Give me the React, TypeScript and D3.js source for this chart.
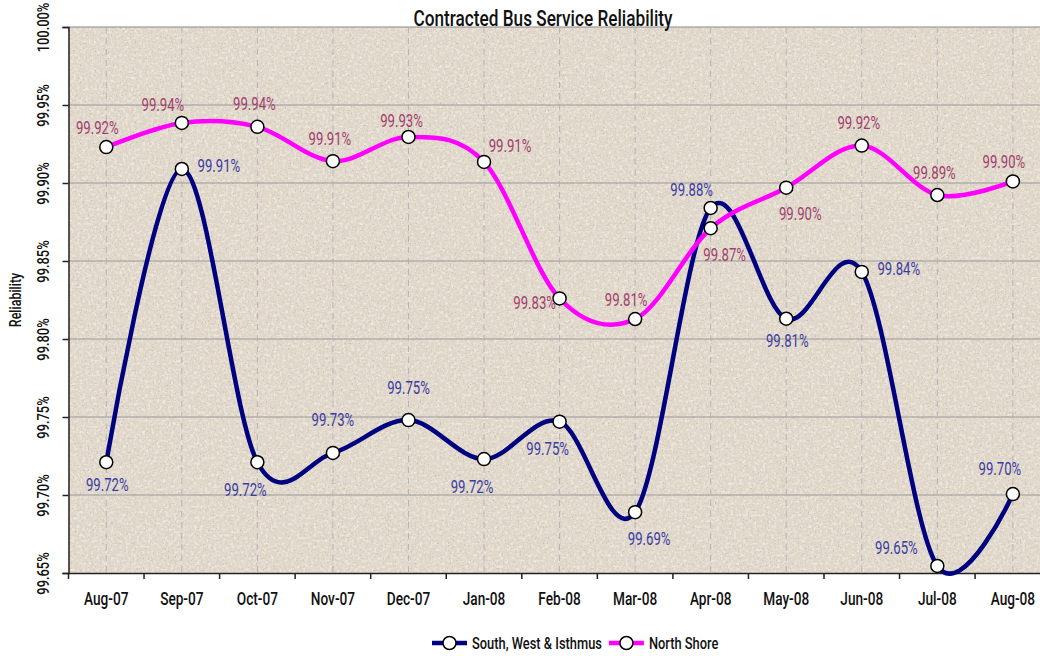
import React, { useEffect, useRef } from 'react';
import * as d3 from 'd3';

const months = ['Aug-07', 'Sep-07', 'Oct-07', 'Nov-07', 'Dec-07', 'Jan-08', 'Feb-08', 'Mar-08', 'Apr-08', 'May-08', 'Jun-08', 'Jul-08', 'Aug-08'];
const southValues = [99.721, 99.909, 99.721, 99.727, 99.748, 99.723, 99.747, 99.689, 99.884, 99.813, 99.843, 99.6545, 99.7006];
const northValues = [99.923, 99.9385, 99.936, 99.914, 99.9295, 99.9135, 99.826, 99.8128, 99.871, 99.897, 99.924, 99.8923, 99.901];
const southLabelPos = ['below', 'right', 'belowLeft', 'aboveHigh', 'aboveHigh', 'belowLeft', 'belowLeft', 'belowRight', 'aboveLeftWide', 'below', 'right', 'farLeft', 'aboveLeftHigh'];
const northLabelPos = ['aboveLeft', 'aboveLeftWide', 'above', 'above', 'aboveLeftLow', 'aboveRight', 'left', 'aboveLeft', 'belowRight', 'belowRight', 'above', 'above', 'aboveLeft'];
const yTicks = [99.65, 99.7, 99.75, 99.8, 99.85, 99.9, 99.95, 100.0];

const W = 1040, H = 656;
const margin = { top: 27, left: 68.5, bottom: 83 };
const band = 75.55;
const FONT = "Roboto, 'DejaVu Sans', sans-serif";
const SX = 0.78; // condensed look

const offsets = {
  above: [-3, -23],
  aboveHigh: [0, -33],
  aboveLeft: [-9, -20],
  aboveLeftLow: [-7, -16],
  aboveLeftHigh: [-13, -26],
  aboveLeftWide: [-19, -18],
  aboveRight: [26, -16],
  below: [1, 22],
  belowLeft: [-12, 27],
  belowRight: [14, 26],
  right: [37, -3],
  left: [-25, 4],
  farLeft: [-41, -18],
};

export default function App() {
  const ref = useRef(null);

  useEffect(() => {
    const svg = d3.select(ref.current);
    svg.selectAll('*').remove();

    const x = d3.scaleBand().domain(months).range([margin.left, margin.left + band * months.length]);
    const y = d3.scaleLinear().domain([99.65, 100]).range([H - margin.bottom, margin.top]);
    const cx = d => x(d) + x.bandwidth() / 2;
    const plotRight = margin.left + band * months.length;

    const label = (g, px, py, txt, size, color, anchor = 'middle', sx = SX) =>
      g.append('text').attr('transform', `translate(${px},${py}) scale(${sx},1)`)
        .attr('text-anchor', anchor).attr('font-family', FONT).attr('font-size', size)
        .attr('fill', color).text(txt);

    const defs = svg.append('defs');
    const f = defs.append('filter').attr('id', 'paper').attr('x', 0).attr('y', 0).attr('width', 1).attr('height', 1);
    f.append('feTurbulence').attr('type', 'fractalNoise').attr('baseFrequency', 0.6).attr('numOctaves', 3).attr('seed', 4).attr('result', 'n');
    f.append('feColorMatrix').attr('in', 'n').attr('type', 'matrix')
      .attr('values', '0 0 0 0 0.55  0 0 0 0 0.50  0 0 0 0 0.44  3.0 0 0 0 -1.75');
    const f2 = defs.append('filter').attr('id', 'paper2').attr('x', 0).attr('y', 0).attr('width', 1).attr('height', 1);
    f2.append('feTurbulence').attr('type', 'fractalNoise').attr('baseFrequency', 0.35).attr('numOctaves', 2).attr('seed', 9).attr('result', 'n');
    f2.append('feColorMatrix').attr('in', 'n').attr('type', 'matrix')
      .attr('values', '0 0 0 0 0.95  0 0 0 0 0.93  0 0 0 0 0.90  0 1.6 0 0 -0.72');

    // plot background
    const pw = plotRight - margin.left, ph = y(99.65) - y(100);
    svg.append('rect').attr('x', margin.left).attr('y', y(100)).attr('width', pw).attr('height', ph).attr('fill', '#e0d7c9');
    svg.append('rect').attr('x', margin.left).attr('y', y(100)).attr('width', pw).attr('height', ph).attr('filter', 'url(#paper2)');
    svg.append('rect').attr('x', margin.left).attr('y', y(100)).attr('width', pw).attr('height', ph).attr('filter', 'url(#paper)');

    // grid
    svg.append('g').selectAll('line').data(yTicks.slice(1)).join('line')
      .attr('x1', margin.left).attr('x2', plotRight)
      .attr('y1', d => y(d)).attr('y2', d => y(d))
      .attr('stroke', d => d === 100 ? '#8a8a8a' : '#9a9a9a').attr('stroke-width', 1.2);
    svg.append('g').selectAll('line').data(months).join('line')
      .attr('x1', cx).attr('x2', cx)
      .attr('y1', y(100)).attr('y2', y(99.65))
      .attr('stroke', '#b4b4b8').attr('stroke-width', 1).attr('stroke-dasharray', '6,5');

    // axes
    const xAxis = svg.append('g').attr('transform', `translate(0,${y(99.65)})`)
      .call(d3.axisBottom(x).tickSize(0).tickPadding(20));
    xAxis.select('.domain').attr('stroke', '#222').attr('stroke-width', 1.5);
    xAxis.selectAll('text').attr('font-family', FONT).attr('font-size', 17.5).attr('font-weight', 500).attr('fill', '#111')
      .attr('transform', `scale(${SX},1)`);
    xAxis.append('g').selectAll('line').data(d3.range(months.length + 1)).join('line')
      .attr('x1', i => margin.left + i * band).attr('x2', i => margin.left + i * band)
      .attr('y1', 0).attr('y2', 6).attr('stroke', '#222').attr('stroke-width', 1.5);

    const yAxis = svg.append('g').attr('transform', `translate(${margin.left},0)`)
      .call(d3.axisLeft(y).tickValues(yTicks).tickSize(6).tickFormat(d => d.toFixed(2) + '%'));
    yAxis.select('.domain').attr('stroke', '#222').attr('stroke-width', 1.5);
    yAxis.selectAll('line').attr('stroke', '#222').attr('stroke-width', 1.5);
    yAxis.selectAll('text')
      .attr('font-family', FONT).attr('font-size', 16.5).attr('font-weight', 500).attr('fill', '#111')
      .attr('x', 0).attr('dy', 0).attr('text-anchor', 'middle')
      .attr('transform', `translate(-20,0) rotate(-90) scale(${SX},1)`);

    svg.append('text').attr('transform', `translate(21,${(y(100) + y(99.65)) / 2}) rotate(-90) scale(${SX},1)`)
      .attr('text-anchor', 'middle').attr('font-family', FONT).attr('font-size', 16).attr('font-weight', 500).attr('fill', '#111')
      .text('Reliability');

    label(svg, 543, 25.5, 'Contracted Bus Service Reliability', 21.5, '#111', 'middle', 0.8).attr('font-weight', 500);

    const series = [
      { name: 'South, West & Isthmus', values: southValues, pos: southLabelPos, color: '#000080', labelColor: '#3b3ba3' },
      { name: 'North Shore', values: northValues, pos: northLabelPos, color: '#ff00ff', labelColor: '#a03e6c' },
    ];
    const line = d3.line().x(d => d[0]).y(d => d[1]).curve(d3.curveCardinal.tension(0));

    series.forEach(s => {
      const pts = s.values.map((v, i) => [cx(months[i]), y(v)]);
      svg.append('path').attr('d', line(pts)).attr('fill', 'none').attr('stroke', s.color)
        .attr('stroke-width', 4.5).attr('stroke-linejoin', 'round');
    });
    series.forEach(s => {
      const pts = s.values.map((v, i) => [cx(months[i]), y(v)]);
      svg.append('g').selectAll('circle').data(pts).join('circle')
        .attr('cx', d => d[0]).attr('cy', d => d[1]).attr('r', 6.5)
        .attr('fill', '#fff').attr('stroke', '#000').attr('stroke-width', 1.5);
      const lg = svg.append('g');
      s.values.forEach((v, i) => {
        const o = offsets[s.pos[i]];
        label(lg, cx(months[i]) + o[0], y(v) + o[1] + 6.5, v.toFixed(2) + '%', 18, s.labelColor, 'middle', 0.73);
      });
    });

    // legend
    const lg = svg.append('g').attr('transform', 'translate(0,643)');
    let lx = 432;
    series.forEach(s => {
      lg.append('line').attr('x1', lx).attr('x2', lx + 35).attr('y1', 0).attr('y2', 0)
        .attr('stroke', s.color).attr('stroke-width', 4.5);
      lg.append('circle').attr('cx', lx + 17.5).attr('cy', 0).attr('r', 6.5)
        .attr('fill', '#fff').attr('stroke', '#000').attr('stroke-width', 1.5);
      const t = label(lg, lx + 40, 6, s.name, 16.5, '#111', 'start').attr('font-weight', 500);
      lx += 40 + t.node().getComputedTextLength() * SX + 7;
    });
  }, []);

  return (
    <svg ref={ref} width={W} height={H} style={{ position: 'absolute', left: 0, top: 0, background: '#fff' }} />
  );
}
